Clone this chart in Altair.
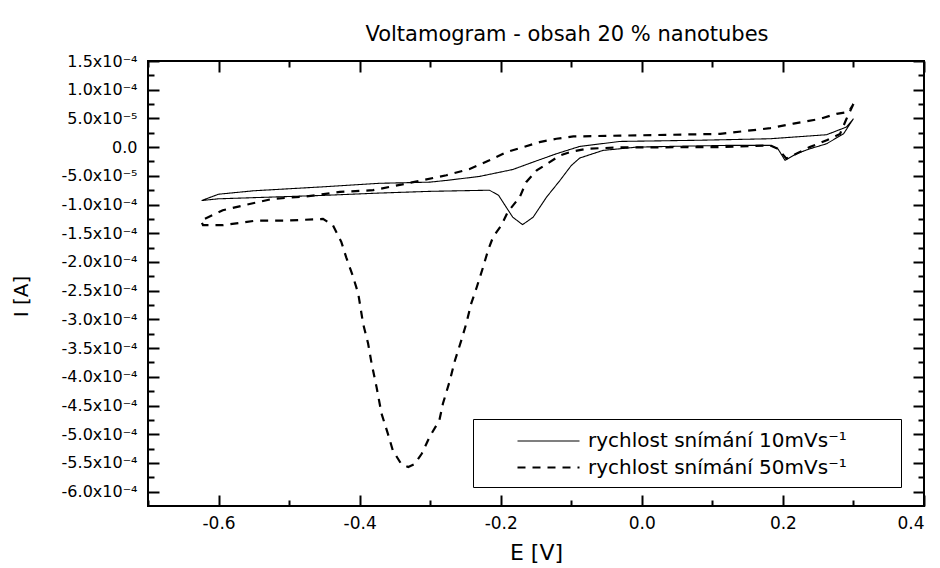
import json
import altair as alt
import pandas as pd

# ---------------- data ----------------
series_names = ["rychlost snímání 10mVs⁻¹", "rychlost snímání 50mVs⁻¹"]

# 10 mV/s  (solid) - closed loop starting at the positive vertex
E_10 = [0.300, 0.286, 0.262, 0.238, 0.219, 0.203, 0.193, 0.182, 0.120, 0.050,
        -0.007, -0.055, -0.088, -0.100, -0.116, -0.135, -0.154, -0.169, -0.183,
        -0.192, -0.203, -0.216, -0.300, -0.372, -0.450, -0.550, -0.600, -0.624,
        -0.600, -0.550, -0.450, -0.372, -0.301, -0.277, -0.230, -0.183, -0.154,
        -0.121, -0.088, -0.031, 0.082, 0.182, 0.262, 0.290, 0.300]
I_10 = [4.95e-5, 2.33e-5, 5.9e-6, -3.0e-6, -1.15e-5, -2.3e-5, -3.0e-6, 3.0e-6, 3.0e-6, 1.5e-6,
        0.0, -5.7e-6, -1.9e-5, -3.2e-5, -5.8e-5, -8.7e-5, -1.22e-4, -1.35e-4, -1.22e-4,
        -1.05e-4, -8.4e-5, -7.5e-5, -7.7e-5, -8.0e-5, -8.4e-5, -8.8e-5, -9.0e-5, -9.3e-5,
        -8.2e-5, -7.6e-5, -6.9e-5, -6.3e-5, -6.1e-5, -5.8e-5, -5.1e-5, -3.9e-5, -2.6e-5,
        -1.15e-5, 1.2e-6, 9.9e-6, 1.2e-5, 1.46e-5, 2.16e-5, 3.5e-5, 4.95e-5]

# 50 mV/s  (dashed) - closed loop starting at the positive vertex
E_50 = [0.300, 0.290, 0.281, 0.262, 0.238, 0.219, 0.205, 0.193, 0.182, 0.111,
        -0.031, -0.078, -0.102, -0.116, -0.149, -0.164, -0.173, -0.190, -0.199,
        -0.211, -0.218, -0.225, -0.234, -0.242, -0.249, -0.256, -0.265, -0.272,
        -0.282, -0.287, -0.301, -0.312, -0.322, -0.331, -0.341, -0.353, -0.360,
        -0.369, -0.376, -0.383, -0.388, -0.395, -0.402, -0.410, -0.419, -0.426,
        -0.438, -0.452, -0.504, -0.547, -0.594, -0.622, -0.625,
        -0.594, -0.556, -0.523, -0.476, -0.428, -0.381, -0.324, -0.277, -0.244,
        -0.216, -0.192, -0.168, -0.145, -0.121, -0.097, -0.031, 0.111, 0.182,
        0.215, 0.252, 0.276, 0.293, 0.300]
I_50 = [7.5e-5, 4.9e-5, 2.3e-5, 1.2e-5, 0.0, -1.15e-5, -2.0e-5, -2.8e-6, 3.0e-6, 0.0,
        -5e-7, -2.8e-6, -8.7e-6, -1.45e-5, -4.06e-5, -6.1e-5, -8.7e-5, -1.13e-4, -1.36e-4,
        -1.57e-4, -1.80e-4, -2.09e-4, -2.44e-4, -2.73e-4, -3.08e-4, -3.37e-4, -3.72e-4, -4.06e-4,
        -4.47e-4, -4.76e-4, -5.05e-4, -5.34e-4, -5.52e-4, -5.57e-4, -5.52e-4, -5.28e-4, -4.99e-4,
        -4.64e-4, -4.18e-4, -3.77e-4, -3.42e-4, -3.08e-4, -2.55e-4, -2.23e-4, -1.92e-4, -1.65e-4,
        -1.36e-4, -1.25e-4, -1.28e-4, -1.28e-4, -1.36e-4, -1.36e-4, -1.28e-4,
        -1.10e-4, -9.9e-5, -9.0e-5, -8.6e-5, -7.8e-5, -7.5e-5, -6.1e-5, -4.9e-5, -3.8e-5,
        -2.3e-5, -8.7e-6, 0.0, 8.7e-6, 1.46e-5, 1.86e-5, 2.0e-5, 2.3e-5, 3.3e-5,
        4.1e-5, 4.9e-5, 5.8e-5, 6.1e-5, 7.5e-5]

x_major = [-0.6, -0.4, -0.2, 0.0, 0.2, 0.4]
x_major_labels = ["-0.6", "-0.4", "-0.2", "0.0", "0.2", "0.4"]
x_minor = [-0.7, -0.5, -0.3, -0.1, 0.1, 0.3]

y_major = [1.5e-4, 1.0e-4, 5.0e-5, 0.0, -5.0e-5, -1.0e-4, -1.5e-4, -2.0e-4, -2.5e-4,
           -3.0e-4, -3.5e-4, -4.0e-4, -4.5e-4, -5.0e-4, -5.5e-4, -6.0e-4]
y_major_labels = ["1.5x10⁻⁴", "1.0x10⁻⁴", "5.0x10⁻⁵", "0.0", "-5.0x10⁻⁵", "-1.0x10⁻⁴",
                  "-1.5x10⁻⁴", "-2.0x10⁻⁴", "-2.5x10⁻⁴", "-3.0x10⁻⁴", "-3.5x10⁻⁴",
                  "-4.0x10⁻⁴", "-4.5x10⁻⁴", "-5.0x10⁻⁴", "-5.5x10⁻⁴", "-6.0x10⁻⁴"]
y_minor = [1.25e-4, 7.5e-5, 2.5e-5, -2.5e-5, -7.5e-5, -1.25e-4, -1.75e-4, -2.25e-4,
           -2.75e-4, -3.25e-4, -3.75e-4, -4.25e-4, -4.75e-4, -5.25e-4, -5.75e-4]

# ---------------- table ----------------
rows = []
for k, (e, i) in enumerate(zip(E_10, I_10)):
    rows.append({"E": e, "I": i, "series": series_names[0], "i": k})
for k, (e, i) in enumerate(zip(E_50, I_50)):
    rows.append({"E": e, "I": i, "series": series_names[1], "i": k})
df = pd.DataFrame(rows)

FONT = "DejaVu Sans"
W, H = 776, 445

xscale = alt.Scale(domain=[-0.7, 0.4], nice=False, zero=False)
yscale = alt.Scale(domain=[-6.25e-4, 1.5e-4], nice=False, zero=False)

x_label_expr = json.dumps(x_major_labels, ensure_ascii=False) + "[round((datum.value + 0.6) * 5)]"
y_label_expr = json.dumps(y_major_labels, ensure_ascii=False) + "[round((0.00015 - datum.value) * 20000)]"

MAJ = {"expr": "-11"}
MIN = {"expr": "-6"}

ax_bottom = alt.Axis(values=x_major, labelExpr=x_label_expr, tickSize=MAJ, tickWidth=2,
                     labelPadding=20, labelFontSize=17, labelFont=FONT, title="E [V]",
                     titleFont=FONT, titleFontSize=22, titleFontWeight="normal",
                     titleX=W / 2, titleY=46, titleBaseline="middle", titleAnchor="middle")
ax_left = alt.Axis(values=y_major, labelExpr=y_label_expr, tickSize=MAJ, tickWidth=2,
                   labelPadding=22, labelFontSize=16, labelFont=FONT, title="I [A]",
                   titleFont=FONT, titleFontSize=20, titleFontWeight="normal",
                   titleX=-127, titleY=235, titleBaseline="middle", titleAlign="center",
                   titleAngle=270)
ax_top = alt.Axis(orient="top", values=x_major, labels=False, tickSize=MAJ, tickWidth=2, title=None)
ax_right = alt.Axis(orient="right", values=y_major, labels=False, tickSize=MAJ, tickWidth=2, title=None)
ax_bottom_min = alt.Axis(orient="bottom", values=x_minor, labels=False, tickSize=MIN, tickWidth=2, title=None)
ax_left_min = alt.Axis(orient="left", values=y_minor, labels=False, tickSize=MIN, tickWidth=2, title=None)
ax_top_min = alt.Axis(orient="top", values=x_minor, labels=False, tickSize=MIN, tickWidth=2, title=None)
ax_right_min = alt.Axis(orient="right", values=y_minor, labels=False, tickSize=MIN, tickWidth=2, title=None)

# legend: a long horizontal stroke symbol drawn as a custom path;
# trailing non-breaking spaces (kept by a zero-width char) widen the framed box
PAD_TAIL = "\u00a0" * 7 + "\u200b"
legend = alt.Legend(title=None, orient="none", legendX=325, legendY=358, padding=9,
                    strokeColor="black", fillColor="white", symbolType="M-2.5,0H2.5",
                    symbolSize=615, symbolOffset=53, symbolStrokeColor="black",
                    labelFont=FONT, labelFontSize=20, labelColor="black", labelOffset=26,
                    rowPadding=3, labelLimit=0,
                    labelExpr="datum.label + '" + PAD_TAIL + "'")

base = alt.Chart(df)

lines = base.mark_line(color="black").encode(
    x=alt.X("E:Q", scale=xscale, axis=ax_bottom),
    y=alt.Y("I:Q", scale=yscale, axis=ax_left),
    strokeDash=alt.StrokeDash("series:N", scale=alt.Scale(domain=series_names, range=[[1, 0], [8, 7]]), legend=legend),
    strokeWidth=alt.StrokeWidth("series:N", scale=alt.Scale(domain=series_names, range=[1.1, 2.2]), legend=legend),
    order="i:Q",
)

def ghost(ax_x, ax_y):
    return base.mark_line(strokeOpacity=0).encode(
        x=alt.X("E:Q", scale=xscale, axis=ax_x),
        y=alt.Y("I:Q", scale=yscale, axis=ax_y),
        detail="series:N",
        order="i:Q",
    )

chart = alt.layer(
    lines,
    ghost(ax_top, ax_right),
    ghost(ax_bottom_min, ax_left_min),
    ghost(ax_top_min, ax_right_min),
).resolve_axis(x="independent", y="independent").properties(
    width=W, height=H,
    autosize=alt.AutoSizeParams(type="none"),
    padding={"left": 140, "top": 53, "right": 4, "bottom": 58},
    title=alt.TitleParams("Voltamogram - obsah 20 % nanotubes", font=FONT, fontSize=21,
                          fontWeight="normal", color="black", anchor="middle", dx=31,
                          dy=23, offset=14, baseline="alphabetic", frame="group"),
).configure_axis(
    grid=False, domain=False, tickColor="black", labelColor="black", titleColor="black",
    minExtent=0,
).configure_view(
    stroke="black", strokeWidth=2,
)

chart.save("out.html", embed_options={"renderer": "svg", "actions": False})
